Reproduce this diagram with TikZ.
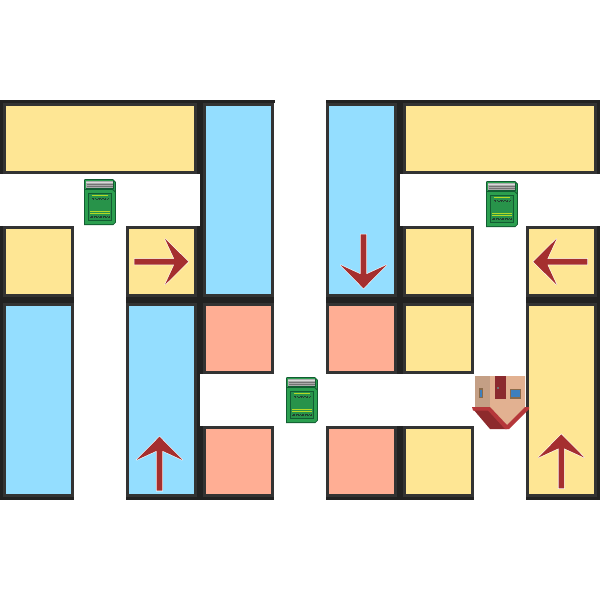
\documentclass[tikz,border=0pt]{standalone}
\definecolor{wallout}{HTML}{222222}
\definecolor{wallin}{HTML}{333333}
\definecolor{ytile}{HTML}{FEE694}
\definecolor{btile}{HTML}{94DEFF}
\definecolor{stile}{HTML}{FFAE94}
\definecolor{arrowred}{HTML}{A52F2F}
\definecolor{bookgreen}{HTML}{2B9F4F}
\definecolor{bookpanel}{HTML}{28934A}
\definecolor{bookedge}{HTML}{125C32}
\definecolor{bookline}{HTML}{B4D825}
\definecolor{bookpage}{HTML}{ABABAB}
\definecolor{booktext}{HTML}{24402F}
\definecolor{wallshade}{HTML}{C49F85}
\definecolor{walllight}{HTML}{E2B191}
\definecolor{doorred}{HTML}{8B2A2E}
\definecolor{roofred}{HTML}{B5373A}
\definecolor{roofdark}{HTML}{8D2A2C}
\definecolor{winframe}{HTML}{8A6A4A}
\definecolor{winblue}{HTML}{3D7FBD}
\tikzset{
  band/.style={fill=wallout,draw=none},
  tileframe/.style={fill=wallin,draw=none},
  redhalo/.style={draw=white,line width=1.1pt,line join=miter,miter limit=2},
  redarrow/.style={fill=arrowred,draw=none},
  arrowshape/.style={insert path={(0,0) -- (-23.3,23) -- (-14,2.8) -- (-54,2.8) -- (-54,-2.8) -- (-14,-2.8) -- (-23.3,-23) -- cycle}},
}
\newcommand{\tile}[5]{% x0 y0 x1 y1 colour (fill extents)
  \fill[tileframe] (#1-3,#2-3) rectangle (#3+3,#4+3);
  \fill[#5] (#1,#2) rectangle (#3,#4);
}
\newcommand{\redarr}[3]{% tip x, tip y, rotation
  \begin{scope}[shift={(#1,#2)},rotate=#3]
    \draw[redhalo,arrowshape];
    \fill[redarrow,arrowshape];
  \end{scope}
}
\newcommand{\booksprite}[2]{%
  \begin{scope}[shift={(#1,#2)}]
    \fill[bookedge] (0.6,0) -- (29,0) -- (31.8,2.8) -- (31.8,43.6) -- (29.4,46) -- (0,46) -- (0,2) -- cycle;
    \fill[bookgreen] (1,1) -- (28.6,1) -- (30.8,3.2) -- (30.8,43.2) -- (29,45) -- (1,45) -- cycle;
    \fill[bookedge] (1.5,1.6) rectangle (29.6,9.6);
    \fill[bookpage] (2.2,2.3) rectangle (28.8,8.8);
    \draw[white!85!black,line width=0.8pt] (2.4,3.4) -- (28.6,3.4);
    \draw[black!55,line width=0.6pt] (3,5) -- (28.6,5) (3,7) -- (28.6,7);
    \draw[bookedge,line width=0.8pt] (1,10.4) -- (28.6,10.4) -- (31,12.8);
    \fill[bookpanel] (4.5,14.4) rectangle (27.5,41.6);
    \draw[bookedge,line width=0.9pt] (4.5,14.4) rectangle (27.5,41.6);
    \draw[bookline,line width=0.9pt] (8,16.4) -- (24.4,16.4) (6,32.4) -- (26,32.4) (6,34.2) -- (26,34.2);
    \draw[booktext,line width=1pt,dash pattern=on 2pt off 1pt on 1pt off 2pt on 3pt off 1pt] (8,19) -- (24.4,19);
    \draw[booktext,line width=1pt,dash pattern=on 1pt off 2pt on 2pt off 1pt on 1pt off 1pt] (9,20.6) -- (24,20.6);
    \draw[booktext,line width=1pt,dash pattern=on 2pt off 1pt on 3pt off 1pt on 1pt off 1pt] (7,37) -- (26,37);
    \draw[booktext,line width=1pt,dash pattern=on 3pt off 1pt on 1pt off 1pt on 2pt off 1pt] (6,38.8) -- (26,38.8);
  \end{scope}
}
\begin{document}
\begin{tikzpicture}[x=1pt,y=-1pt]
\useasboundingbox (0,0) rectangle (600,600);
\fill[white] (0,0) rectangle (600,600);
% outer wall bands, left half
\fill[band] (0,100) rectangle (275,103);
\fill[band] (0,100) rectangle (3,174);
\fill[band] (197,100) rectangle (203,174);
\fill[band] (200,174) rectangle (203,226);
\fill[band] (0,226) rectangle (3,500);
\fill[band] (197,226) rectangle (203,374);
\fill[band] (197,374) rectangle (200,426);
\fill[band] (197,426) rectangle (203,500);
\fill[band] (0,297) rectangle (74,303);
\fill[band] (126,297) rectangle (274,303);
\fill[band] (0,497) rectangle (74,500);
\fill[band] (126,497) rectangle (274,500);
% outer wall bands, right half
\fill[band] (326,100) rectangle (600,103);
\fill[band] (597,100) rectangle (600,174);
\fill[band] (397,100) rectangle (403,174);
\fill[band] (397,174) rectangle (400,226);
\fill[band] (597,226) rectangle (600,500);
\fill[band] (397,226) rectangle (403,374);
\fill[band] (397,426) rectangle (403,500);
\fill[band] (326,297) rectangle (474,303);
\fill[band] (526,297) rectangle (600,303);
\fill[band] (326,497) rectangle (474,500);
\fill[band] (526,497) rectangle (600,500);
% tiles, left half
\tile{6}{106}{194}{171}{ytile}
\tile{206}{106}{271}{294}{btile}
\tile{6}{229}{71}{294}{ytile}
\tile{129}{229}{194}{294}{ytile}
\tile{6}{306}{71}{494}{btile}
\tile{129}{306}{194}{494}{btile}
\tile{206}{306}{271}{371}{stile}
\tile{206}{429}{271}{494}{stile}
% tiles, right half
\tile{329}{106}{394}{294}{btile}
\tile{406}{106}{594}{171}{ytile}
\tile{406}{229}{471}{294}{ytile}
\tile{529}{229}{594}{294}{ytile}
\tile{329}{306}{394}{371}{stile}
\tile{406}{306}{471}{371}{ytile}
\tile{329}{429}{394}{494}{stile}
\tile{406}{429}{471}{494}{ytile}
\tile{529}{306}{594}{494}{ytile}
% arrows
\redarr{188.3}{261.7}{0}
\redarr{533.3}{261.7}{180}
\redarr{159.5}{436.7}{90}
\redarr{363.5}{288.3}{-90}
\redarr{561.3}{434.3}{90}
% books
\booksprite{84}{179}
\booksprite{486}{181}
\booksprite{286}{377}
% house
\begin{scope}
  \fill[wallshade] (475,376) rectangle (490,407.5);
  \fill[walllight] (490,376) -- (525,376) -- (525,407.5) -- (507,425.5) -- (490,407.5) -- cycle;
  \fill[roofdark] (473,409) -- (490,409) -- (507,429) -- (490,429) -- cycle;
  \fill[roofred] (472,407) -- (490,407) -- (507,425) -- (525,407) -- (529,407) -- (529,409) -- (509,429) -- (505,429) -- (488,410.5) -- (473,410.5) -- cycle;
  \fill[doorred] (495,376) rectangle (506,399);
  \fill[black!55] (496.5,387.3) rectangle (498.5,389.3);
  \fill[winframe] (510,389) rectangle (521,398.5);
  \fill[winblue] (511,390.3) rectangle (520,397.3);
  \fill[winframe] (479.3,388.3) rectangle (483.3,397.7);
  \fill[winblue] (480.3,389.5) rectangle (482.3,396.5);
\end{scope}
\end{tikzpicture}
\end{document}
